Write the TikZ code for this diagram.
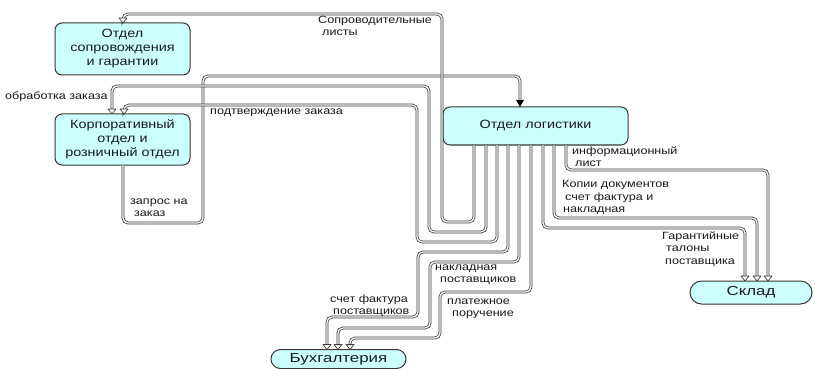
\documentclass[tikz,border=0pt]{standalone}
\usepackage{fontspec}
\setmainfont{Liberation Sans}
\newfontfamily\lblfont[FakeStretch=1.2]{Liberation Sans}
\newfontfamily\bxfont[FakeStretch=1.2]{Liberation Sans}
\newfontfamily\bgfont[FakeStretch=1.3]{Liberation Sans}
\usetikzlibrary{calc}
\definecolor{boxfill}{RGB}{204,255,255}
\definecolor{lnc}{RGB}{55,55,50}
\definecolor{txt}{RGB}{25,25,35}
\tikzset{
  dept/.style={draw=lnc, line width=1pt, fill=boxfill, rounded corners=7pt, align=center,
    text=txt, font=\bxfont\fontsize{12}{14}\selectfont, inner sep=0pt, outer sep=0pt},
  conn/.style={draw=lnc, line width=0.75pt, double=white, double distance=1.3pt, rounded corners=5pt},
  lbl/.style={anchor=north west, inner sep=0pt, align=left,
    font=\lblfont\fontsize{10.5}{12.5}\selectfont, text=black!90},
  tipo/.pic={\draw[lnc, fill=white, line width=0.7pt, line join=round] (-4,-5) -- (4,-5) -- (0,0) -- cycle;},
  tipf/.pic={\fill[black] (-4,-7) -- (4,-7) -- (0,0) -- cycle;}
}
\begin{document}
\begin{tikzpicture}[x=1pt,y=-1pt]
\fill[white] (0,0) rectangle (815,369);
\useasboundingbox (0,0) rectangle (815,369);

% departments
\node[dept, minimum width=135pt, minimum height=52pt] (sop) at (122.5,49) {Отдел\\сопровождения\\и гарантии};
\node[dept, minimum width=135pt, minimum height=51pt] (korp) at (122.5,139.5) {Корпоративный\\отдел и\\розничный отдел};
\node[dept, minimum width=185pt, minimum height=38pt] (log) at (535.5,126) {Отдел логистики};
\node[dept, rounded corners=11.5pt, font=\bgfont\fontsize{13}{15}\selectfont, minimum width=122pt, minimum height=23pt] (sklad) at (751,292.5) {Склад};
\node[dept, rounded corners=9.5pt, font=\bgfont\fontsize{13}{15}\selectfont, minimum width=135pt, minimum height=19pt] (buh) at (338.5,359) {Бухгалтерия};

% exits at the bottom of logistics
\foreach \n/\dx in {b1/31,b2/43,b3/54,b4/65,b5/76,b6/88,b7/100,b8/111,b9/123}
  \coordinate (\n) at ([xshift=\dx pt]log.south west);

% arrow targets
\coordinate (tS) at ([xshift=0.5pt]sop.north);
\coordinate (tK1) at ([xshift=-10.5pt]korp.north);
\coordinate (tK2) at ([xshift=1.5pt]korp.north);
\coordinate (kout) at ([xshift=0.5pt]korp.south);
\coordinate (tL) at ([xshift=-15.5pt]log.north);
\coordinate (tB1) at ([xshift=-11.5pt]buh.north);
\coordinate (tB2) at ([xshift=-0.5pt]buh.north);
\coordinate (tB3) at ([xshift=11.5pt]buh.north);
\coordinate (tW1) at ([xshift=-6pt]sklad.north);
\coordinate (tW2) at ([xshift=6pt]sklad.north);
\coordinate (tW3) at ([xshift=17pt]sklad.north);

% запрос на заказ
\draw[conn] (kout) -- (123,223) -- (203,223) -- (203,76) -| ([yshift=7pt]tL);
\pic at (tL) {tipf};

% Сопроводительные листы
\draw[conn] (b1) -- (474,222) -- (442,222) -- (442,14) -| ([yshift=5pt]tS);
\pic at (tS) {tipo};

% обработка заказа
\draw[conn] (b2) -- (486,232) -- (429,232) -- (429,86) -| ([yshift=5pt]tK1);
\pic at (tK1) {tipo};

% подтверждение заказа
\draw[conn] (b3) -- (497,242) -- (417,242) -- (417,105) -| ([yshift=5pt]tK2);
\pic at (tK2) {tipo};

% to Бухгалтерия
\draw[conn] (b4) -- (508,252) -- (418,252) -- (418,317) -| ([yshift=5pt]tB1);
\draw[conn] (b5) -- (519,262) -- (430,262) -- (430,328) -| ([yshift=5pt]tB2);
\draw[conn] (b6) -- (531,292) -- (440,292) -- (440,338) -| ([yshift=5pt]tB3);
\pic at (tB1) {tipo};
\pic at (tB2) {tipo};
\pic at (tB3) {tipo};

% to Склад
\draw[conn] (b7) -- (543,228) -| ([yshift=5pt]tW1);
\draw[conn] (b8) -- (554,218) -| ([yshift=5pt]tW2);
\draw[conn] (b9) -- (566,170) -| ([yshift=5pt]tW3);
\pic at (tW1) {tipo};
\pic at (tW2) {tipo};
\pic at (tW3) {tipo};

% labels
\node[lbl] (l1) at (318,15.5) {Сопроводительные\\\hspace*{4pt}листы};
\node[lbl] (l2) at (5,91.5) {обработка заказа};
\node[lbl] (l3) at (210,108.5) {подтверждение заказа};
\node[lbl] (l4) at (130,198.5) {запрос на\\\hspace*{4pt}заказ};
\node[lbl] (l5) at (572,146.5) {информационный\\\hspace*{3pt}лист};
\node[lbl] (l6) at (562,180.5) {Копии документов\\\hspace*{3pt}счет фактура и\\\hspace*{1pt}накладная};
\node[lbl] (l7) at (662,231.5) {Гарантийные\\\hspace*{4pt}талоны\\\hspace*{3pt}поставщика};
\node[lbl] (l8) at (435,264.5) {накладная\\\hspace*{5pt}поставщиков};
\node[lbl] (l9) at (447,298.5) {платежное\\\hspace*{5pt}поручение};
\node[lbl] (l10) at (330,294.5) {счет фактура\\\hspace*{3pt}поставщиков};
\end{tikzpicture}
\end{document}
